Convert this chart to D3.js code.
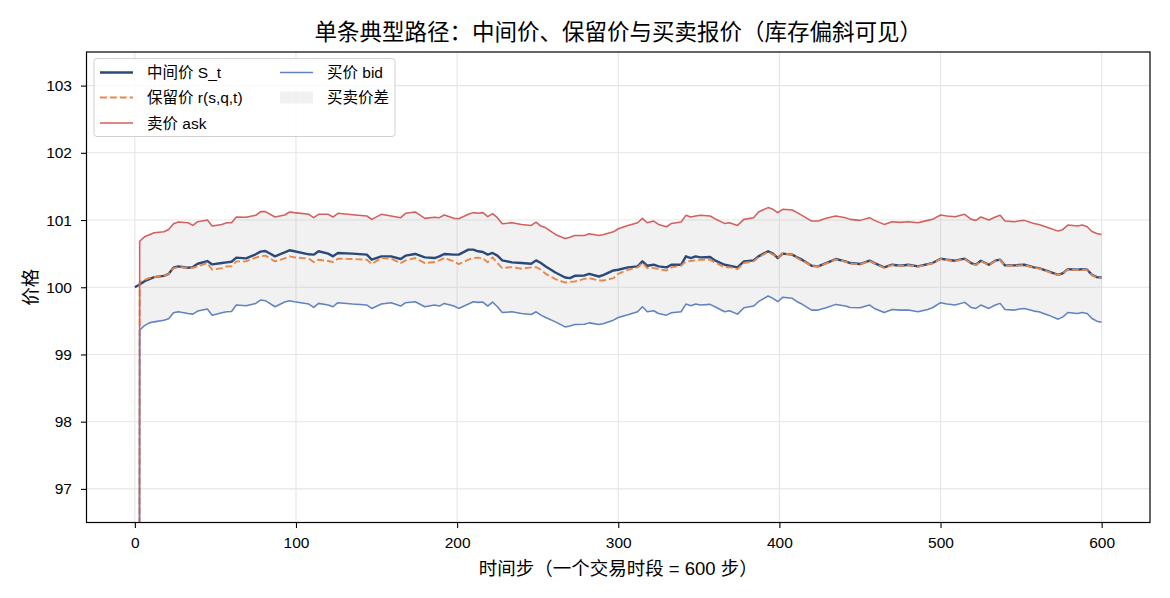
<!DOCTYPE html>
<html>
<head>
<meta charset="utf-8">
<script src="https://cdn.jsdelivr.net/npm/d3@7"></script>
<style>
  body { margin: 0; background: #fff; }
  svg text { font-family: "Liberation Sans", "Noto Sans CJK SC", sans-serif; fill: #000; }
</style>
</head>
<body>
<div id="chart"></div>
<script>
// time steps (sampled) and the four series read from the path
var steps = [
  0,3,6,9,12,18,21,24,27,33,36,39,45,48,54,57,60,63,69,75,78,81,87,93,96,
  99,108,111,114,120,123,126,135,144,147,153,159,165,168,174,180,186,189,192,198,201,207,210,
  213,216,219,222,225,228,234,240,246,249,252,255,261,267,270,273,279,282,288,291,297,300,306,312,315,318,
  322,325,330,333,339,342,345,348,351,357,360,366,369,374,378,384,387,393,396,399,402,408,411,414,420,424,
  429,435,441,444,450,456,459,465,470,475,480,486,492,495,500,504,509,515,519,522,525,530,534,
  537,540,546,549,552,558,561,567,573,576,579,585,588,591,594,597,600
]

var midPrice = [
  100.00,100.04,100.09,100.12,100.15,100.17,100.20,100.29,100.31,100.29,100.30,100.35,100.39,100.34,100.36,100.37,100.38,100.44,100.43,100.49,100.53,100.54,100.46,100.52,100.55,
  100.535,100.49,100.485,100.535,100.50,100.46,100.51,100.50,100.485,100.41,100.46,100.46,100.42,100.47,100.495,100.445,100.435,100.46,100.495,100.485,100.485,100.56,100.56,
  100.535,100.525,100.485,100.51,100.47,100.40,100.37,100.36,100.35,100.40,100.36,100.31,100.22,100.145,100.135,100.17,100.175,100.20,100.16,100.185,100.25,100.26,100.295,100.31,100.385,100.32,
  100.335,100.31,100.295,100.335,100.335,100.46,100.435,100.46,100.445,100.45,100.40,100.335,100.32,100.295,100.385,100.40,100.46,100.535,100.50,100.435,100.50,100.485,100.445,100.41,100.32,100.31,
  100.36,100.42,100.385,100.36,100.345,100.395,100.36,100.295,100.335,100.32,100.335,100.31,100.345,100.36,100.425,100.41,100.395,100.425,100.36,100.335,100.395,100.335,100.395,
  100.41,100.325,100.325,100.33,100.335,100.295,100.285,100.235,100.185,100.21,100.27,100.26,100.27,100.26,100.185,100.15,100.145
]

var reservation = [
  0,100.08,100.11,100.14,100.15,100.17,100.20,100.28,100.30,100.29,100.29,100.31,100.36,100.26,100.285,100.31,100.31,100.385,100.385,100.44,100.46,100.47,100.385,100.43,100.46,
  100.445,100.425,100.375,100.41,100.39,100.375,100.425,100.42,100.41,100.345,100.435,100.425,100.36,100.40,100.435,100.36,100.375,100.40,100.435,100.385,100.345,100.41,100.435,
  100.44,100.43,100.37,100.445,100.36,100.285,100.30,100.275,100.295,100.30,100.26,100.20,100.12,100.07,100.08,100.085,100.125,100.135,100.10,100.10,100.135,100.20,100.26,100.295,100.36,100.285,
  100.285,100.27,100.25,100.295,100.32,100.385,100.39,100.40,100.41,100.41,100.37,100.295,100.30,100.27,100.36,100.385,100.445,100.525,100.485,100.435,100.50,100.485,100.435,100.395,100.32,100.31,
  100.355,100.415,100.38,100.355,100.34,100.39,100.355,100.29,100.33,100.315,100.33,100.305,100.34,100.355,100.42,100.405,100.39,100.42,100.355,100.33,100.39,100.33,100.39,
  100.405,100.32,100.32,100.325,100.33,100.29,100.28,100.23,100.18,100.205,100.265,100.255,100.265,100.255,100.18,100.145,100.14
]

var askPrice = [
  0,100.685,100.75,100.78,100.81,100.825,100.86,100.945,100.97,100.96,100.92,100.975,101.00,100.91,100.935,100.96,100.96,101.045,101.04,101.07,101.125,101.125,101.045,101.075,101.12,
  101.11,101.085,101.035,101.085,101.085,101.045,101.10,101.08,101.06,101.01,101.085,101.06,101.035,101.10,101.12,101.025,101.04,101.035,101.075,101.025,101.02,101.085,101.11,
  101.10,101.11,101.05,101.095,101.035,100.945,100.96,100.935,100.92,100.97,100.91,100.885,100.785,100.725,100.745,100.77,100.77,100.795,100.77,100.785,100.825,100.87,100.92,100.96,101.025,100.96,
  100.985,100.935,100.90,100.95,100.97,101.07,101.045,101.06,101.07,101.06,101.02,100.95,100.96,100.92,101.01,101.035,101.12,101.185,101.16,101.11,101.16,101.15,101.11,101.07,100.985,100.985,
  101.025,101.06,101.035,101.01,100.995,101.035,100.995,100.935,100.975,100.965,100.975,100.96,100.995,101.01,101.075,101.06,101.05,101.085,101.01,100.995,101.045,101.00,101.045,
  101.07,100.985,100.975,100.99,100.995,100.95,100.935,100.885,100.835,100.86,100.925,100.91,100.925,100.90,100.83,100.80,100.785
]

var bidPrice = [
  0,99.36,99.43,99.47,99.485,99.51,99.53,99.62,99.635,99.61,99.60,99.645,99.675,99.585,99.62,99.635,99.64,99.735,99.725,99.76,99.81,99.80,99.71,99.78,99.80,
  99.785,99.75,99.70,99.76,99.735,99.71,99.77,99.75,99.735,99.685,99.75,99.77,99.72,99.77,99.785,99.71,99.735,99.72,99.76,99.72,99.685,99.75,99.785,
  99.775,99.78,99.72,99.78,99.71,99.625,99.635,99.61,99.595,99.635,99.585,99.55,99.485,99.41,99.425,99.445,99.45,99.47,99.445,99.46,99.51,99.55,99.59,99.635,99.71,99.635,
  99.65,99.61,99.585,99.62,99.635,99.75,99.725,99.75,99.735,99.745,99.71,99.635,99.65,99.60,99.695,99.72,99.785,99.87,99.835,99.785,99.85,99.835,99.785,99.75,99.66,99.66,
  99.695,99.745,99.72,99.70,99.695,99.735,99.685,99.625,99.67,99.66,99.66,99.635,99.67,99.695,99.77,99.75,99.735,99.775,99.70,99.685,99.735,99.685,99.735,
  99.76,99.67,99.66,99.675,99.685,99.645,99.635,99.585,99.525,99.56,99.625,99.61,99.625,99.61,99.535,99.495,99.48
]

var xTicks = [0, 100, 200, 300, 400, 500, 600]
var yTicks = [97, 98, 99, 100, 101, 102, 103]

var width = 1170
    height = 598
    margin = {top: 52, right: 20, bottom: 75.5, left: 86.5}

var svg = d3.select('#chart')
  .append('svg')
    .attr('width', width)
    .attr('height', height)

var iw = width - margin.left - margin.right
var ih = height - margin.top - margin.bottom

var x = d3.scaleLinear().domain([-30, 630]).range([margin.left, margin.left + iw])
var y = d3.scaleLinear().domain([96.5, 103.5]).range([margin.top + ih, margin.top])

var data = steps.map(function(t, i) {
  return {t: t, mid: midPrice[i], r: reservation[i], ask: askPrice[i], bid: bidPrice[i]}
})

svg.append('clipPath').attr('id', 'clip')
  .append('rect')
    .attr('x', margin.left).attr('y', margin.top)
    .attr('width', iw).attr('height', ih)

// grid
var grid = svg.append('g')
grid.selectAll('.gx').data(xTicks).enter().append('line')
  .attr('x1', d => x(d)).attr('x2', d => x(d))
  .attr('y1', margin.top).attr('y2', margin.top + ih)
  .attr('stroke', '#e5e5e5').attr('stroke-width', 1.1)
grid.selectAll('.gy').data(yTicks).enter().append('line')
  .attr('y1', d => y(d)).attr('y2', d => y(d))
  .attr('x1', margin.left).attr('x2', margin.left + iw)
  .attr('stroke', '#e5e5e5').attr('stroke-width', 1.1)

var plot = svg.append('g').attr('clip-path', 'url(#clip)')

// spread band
plot.append('path')
  .datum(data)
  .attr('d', d3.area().x(d => x(d.t)).y0(d => y(d.bid)).y1(d => y(d.ask)))
  .attr('fill', '#b0b0b0')
  .attr('fill-opacity', 0.18)

var series = [
  {key: 'mid', color: '#2b4a7b', w: 2.4, dash: null},
  {key: 'r', color: '#e8874a', w: 1.9, dash: '6.9,3'},
  {key: 'ask', color: '#d2605f', w: 1.55, dash: null},
  {key: 'bid', color: '#6183c2', w: 1.55, dash: null}
]

series.forEach(function(s) {
  plot.append('path')
    .datum(data)
    .attr('d', d3.line().x(d => x(d.t)).y(d => y(d[s.key])))
    .attr('fill', 'none')
    .attr('stroke', s.color)
    .attr('stroke-width', s.w)
    .attr('stroke-dasharray', s.dash)
    .attr('stroke-linejoin', 'round')
})

// axes
var xAxis = svg.append('g')
  .attr('transform', 'translate(0,' + (margin.top + ih) + ')')
  .call(d3.axisBottom(x).tickValues(xTicks).tickSize(5.5).tickPadding(11))
var yAxis = svg.append('g')
  .attr('transform', 'translate(' + margin.left + ',0)')
  .call(d3.axisLeft(y).tickValues(yTicks).tickFormat(d3.format('d')).tickSize(5.5).tickPadding(9))
;[xAxis, yAxis].forEach(function(a) {
  a.select('.domain').remove()
  a.selectAll('text').style('font-size', '15.5px')
  a.selectAll('line').attr('stroke', '#000').attr('stroke-width', 1.1)
})
xAxis.selectAll('text').attr('dy', '0.55em')

svg.append('rect')
  .attr('x', margin.left).attr('y', margin.top)
  .attr('width', iw).attr('height', ih)
  .attr('fill', 'none').attr('stroke', '#000').attr('stroke-width', 1.2)

// labels
svg.append('text')
  .attr('x', margin.left + iw / 2).attr('y', 40)
  .attr('text-anchor', 'middle')
  .style('font-size', '22.5px')
  .text('单条典型路径：中间价、保留价与买卖报价（库存偏斜可见）')
svg.append('text')
  .attr('x', margin.left + iw / 2).attr('y', 575)
  .attr('text-anchor', 'middle')
  .style('font-size', '18.5px')
  .text('时间步（一个交易时段 = 600 步）')
svg.append('text')
  .attr('transform', 'translate(37,' + (margin.top + ih / 2) + ') rotate(-90)')
  .attr('text-anchor', 'middle')
  .style('font-size', '18.5px')
  .text('价格')

// legend
var legend = svg.append('g')
legend.append('rect')
  .attr('x', 94).attr('y', 58.5).attr('width', 301).attr('height', 78).attr('rx', 3)
  .attr('fill', '#fff').attr('fill-opacity', 0.85)
  .attr('stroke', '#d0d0d0').attr('stroke-width', 1)

var items = [
  {label: '中间价 S_t', color: '#2b4a7b', w: 2.4, dash: null, x: 100, y: 72.5},
  {label: '保留价 r(s,q,t)', color: '#e8874a', w: 1.9, dash: '6.9,3', x: 100, y: 97.5},
  {label: '卖价 ask', color: '#d2605f', w: 1.55, dash: null, x: 100, y: 123},
  {label: '买价 bid', color: '#6183c2', w: 1.55, dash: null, x: 280, y: 72.5},
  {label: '买卖价差', patch: true, x: 280, y: 97.5}
]
items.forEach(function(it) {
  if (it.patch) {
    legend.append('rect')
      .attr('x', it.x).attr('y', it.y - 6).attr('width', 33).attr('height', 12)
      .attr('fill', '#b0b0b0').attr('fill-opacity', 0.18)
  } else {
    legend.append('line')
      .attr('x1', it.x).attr('x2', it.x + 33)
      .attr('y1', it.y).attr('y2', it.y)
      .attr('stroke', it.color).attr('stroke-width', it.w)
      .attr('stroke-dasharray', it.dash)
  }
  legend.append('text')
    .attr('x', it.x + 47).attr('y', it.y + 5.5)
    .style('font-size', '15.5px')
    .text(it.label)
})
</script>
</body>
</html>
